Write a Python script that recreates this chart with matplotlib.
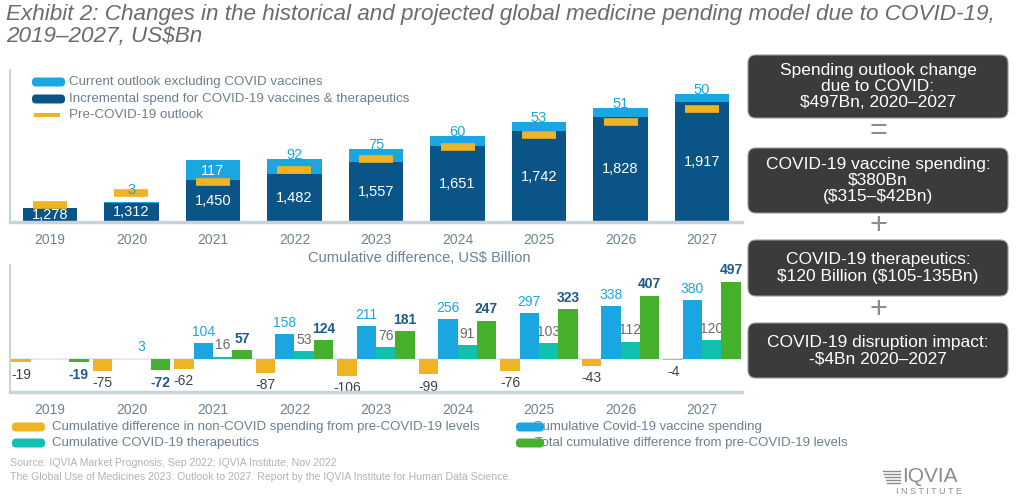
import matplotlib
matplotlib.use("Agg")
import matplotlib.pyplot as plt
from matplotlib import font_manager
from matplotlib.patches import FancyBboxPatch
from matplotlib.transforms import IdentityTransform
import numpy as np

# ---- data ----
years = ["2019", "2020", "2021", "2022", "2023", "2024", "2025", "2026", "2027"]
current_spend = [1278, 1312, 1450, 1482, 1557, 1651, 1742, 1828, 1917]
incremental = [0, 3, 117, 92, 75, 60, 53, 51, 50]
pre_covid = [1297, 1368, 1437, 1507, 1576, 1644, 1719, 1795, 1878]

non_covid_diff = [-19, -75, -62, -87, -106, -99, -76, -43, -4]
vaccine_cum = [0, 0, 104, 158, 211, 256, 297, 338, 380]
therapeutics_cum = [0, 3, 16, 53, 76, 91, 103, 112, 120]
total_cum = [-19, -72, 57, 124, 181, 247, 323, 407, 497]

# ---- style ----
NAVY = "#0a5487"
LIGHT = "#1aa6e0"
ORANGE = "#f0b323"
TEAL = "#13bfae"
GREEN = "#44b02b"
LBL_DARK = "#1e5a8a"
AXCOL = "#c8d3db"
TXT = "#6d7f8d"

names = {f.name for f in font_manager.fontManager.ttflist}
NARROW = "Liberation Sans Narrow" if "Liberation Sans Narrow" in names else "Liberation Sans"
plt.rcParams["font.family"] = ["Liberation Sans", "DejaVu Sans"]
plt.rcParams["text.parse_math"] = False

W, H = 1018, 500
fig = plt.figure(figsize=(W / 100, H / 100), dpi=100)


def fx(x):
    return x / W


def fy(y):
    return 1 - y / H


def px_patch(x0, y0, x1, y1, color, rad=4, z=5):
    # rounded box given in image pixels (top-left origin)
    p = FancyBboxPatch((x0, H - y1), x1 - x0, y1 - y0,
                       boxstyle=f"round,pad=0,rounding_size={rad}",
                       transform=IdentityTransform(), facecolor=color,
                       edgecolor="none", zorder=z)
    fig.patches.append(p)
    return p


x = np.arange(len(years))

# ---- title ----
fig.text(fx(6), fy(4), "Exhibit 2: Changes in the historical and projected global medicine pending model due to COVID-19,\n2019\u20132027, US$Bn",
         ha="left", va="top", fontsize=16.2, style="italic", color="#6b6b6b",
         family=[NARROW, "DejaVu Sans"], linespacing=1.05)

# ---- upper chart ----
ax1 = fig.add_axes([fx(10), fy(222), (742 - 10) / W, (222 - 70) / H])
ymin1 = 1195
ax1.bar(x, current_spend, width=0.67, color=NAVY, zorder=2)
ax1.bar(x, incremental, bottom=current_spend, width=0.67, color=LIGHT, zorder=2)
ax1.plot(x, pre_covid, ls="none", marker="_", ms=24, mew=5.5, color=ORANGE, zorder=3)
ax1.set_xlim(-0.49, 8.49)
ax1.set_ylim(ymin1, 2111)
for xi, v, inc in zip(x, current_spend, incremental):
    ax1.text(xi, (ymin1 + v) / 2, f"{v:,}", ha="center", va="center",
             color="white", fontsize=10.5, zorder=4)
    top = v + inc
    if inc == 0:
        continue
    if inc > 100:
        ax1.annotate(f"{inc}", (xi, top), xytext=(0, -3), textcoords="offset points",
                     ha="center", va="top", color="white", fontsize=10.5, zorder=4)
    elif inc < 20:
        ax1.annotate(f"{inc}", (xi, top), xytext=(0, 9), textcoords="offset points",
                     ha="center", va="center", color=LIGHT, fontsize=10.5, zorder=4)
    else:
        ax1.annotate(f"{inc}", (xi, top), xytext=(0, 3), textcoords="offset points",
                     ha="center", va="center", color=LIGHT, fontsize=10.5, zorder=1.5)
ax1.set_xticks(x, years)
ax1.set_yticks([])
ax1.tick_params(axis="x", length=0, pad=8, labelsize=10, labelcolor="#6f8391")
for s in ["top", "right"]:
    ax1.spines[s].set_visible(False)
ax1.spines["left"].set_color(AXCOL)
ax1.spines["left"].set_linewidth(1.5)
ax1.spines["bottom"].set_color(AXCOL)
ax1.spines["bottom"].set_linewidth(2.5)
ax1.patch.set_visible(False)

# upper legend
leg1 = [(LIGHT, "Current outlook excluding COVID vaccines", 82),
        (NAVY, "Incremental spend for COVID-19 vaccines & therapeutics", 99)]
for c, lab, yy in leg1:
    px_patch(32, yy - 4.5, 65, yy + 4.5, c, rad=4)
    fig.text(fx(69), fy(yy), lab, ha="left", va="center", fontsize=9.6, color=TXT)
px_patch(34, 113, 60, 117, ORANGE, rad=0)
fig.text(fx(69), fy(115), "Pre-COVID-19 outlook", ha="left", va="center", fontsize=9.6, color=TXT)

fig.text(fx(419), fy(258), "Cumulative difference, US$ Billion", ha="center", va="center",
         fontsize=10.5, color="#6a8196")

# ---- lower chart ----
ax2 = fig.add_axes([fx(10), fy(392), (742 - 10) / W, (392 - 265) / H])
w = 0.237
series = [
    (non_covid_diff, ORANGE, -1.5, "#404040", "normal"),
    (vaccine_cum, LIGHT, -0.5, LIGHT, "normal"),
    (therapeutics_cum, TEAL, 0.5, "#6a6a6a", "normal"),
    (total_cum, GREEN, 1.5, LBL_DARK, "bold"),
]
for vals, c, off, lc, fw in series:
    ax2.bar(x + off * w, vals, width=w, color=c, zorder=3)
    for xi, v in zip(x, vals):
        if v == 0:
            continue
        col = LIGHT if (c == TEAL and v < 10) else lc
        if v > 0:
            ax2.annotate(f"{v}", (xi + off * w, v), xytext=(0, 3), textcoords="offset points",
                         ha="center", va="bottom", color=col, fontsize=10, fontweight=fw, zorder=2)
        else:
            ax2.annotate(f"{v}", (xi + off * w, v), xytext=(0, -4), textcoords="offset points",
                         ha="center", va="top", color=col, fontsize=10, fontweight=fw, zorder=2)
ax2.axhline(0, color="#dfe6ea", lw=1.2, zorder=1)
ax2.set_xlim(-0.49, 8.49)
ax2.set_ylim(-212, 604)
ax2.set_xticks(x, years)
ax2.set_yticks([])
ax2.tick_params(axis="x", length=0, pad=8, labelsize=10, labelcolor="#6f8391")
for s in ["top", "right"]:
    ax2.spines[s].set_visible(False)
ax2.spines["left"].set_color(AXCOL)
ax2.spines["left"].set_linewidth(1.5)
ax2.spines["bottom"].set_color(AXCOL)
ax2.spines["bottom"].set_linewidth(2.5)
ax2.patch.set_visible(False)

# lower legend
leg2 = [(ORANGE, "Cumulative difference in non-COVID spending from pre-COVID-19 levels", 12, 45, 52, 427),
        (TEAL, "Cumulative COVID-19 therapeutics", 12, 45, 52, 443),
        (LIGHT, "Cumulative Covid-19 vaccine spending", 516, 544, 533, 427),
        (GREEN, "Total cumulative difference from pre-COVID-19 levels", 516, 544, 535, 443)]
for c, lab, x0, x1, tx, yy in leg2:
    px_patch(x0, yy - 4.5, x1, yy + 4.5, c, rad=4, z=6)
    fig.text(fx(tx), fy(yy), lab, ha="left", va="center", fontsize=9.5, color=TXT, zorder=1)

# ---- right-hand boxes ----
boxes = [
    (55, 118, "Spending outlook change\ndue to COVID:\n$497Bn, 2020\u20132027"),
    (148, 213, "COVID-19 vaccine spending:\n$380Bn\n($315\u2013$42Bn)"),
    (240, 296, "COVID-19 therapeutics:\n$120 Billion ($105-135Bn)"),
    (323, 378, "COVID-19 disruption impact:\n-$4Bn 2020\u20132027"),
]
for y0, y1, txt in boxes:
    b = px_patch(748, y0, 1008, y1, "#3b3b3b", rad=8)
    b.set_edgecolor("#9a9a9a")
    b.set_linewidth(0.8)
    fig.text(fx(878), fy((y0 + y1) / 2), txt, ha="center", va="center", color="white",
             fontsize=12.5, linespacing=1.12, zorder=7)
for sym, yy in [("=", 131), ("+", 226), ("+", 310)]:
    fig.text(fx(878), fy(yy), sym, ha="center", va="center", color="#8c8c8c", fontsize=22)

# ---- source & logo ----
fig.text(fx(10), fy(463), "Source: IQVIA Market Prognosis, Sep 2022; IQVIA Institute, Nov 2022",
         ha="left", va="center", fontsize=7.6, color="#b3b3b3")
fig.text(fx(10), fy(477), "The Global Use of Medicines 2023: Outlook to 2027. Report by the IQVIA Institute for Human Data Science.",
         ha="left", va="center", fontsize=7.6, color="#b3b3b3")
for k, yy in enumerate(np.linspace(471, 483, 5)):
    fig.lines.append(plt.Line2D([fx(883 + k), fx(900)], [fy(yy), fy(yy)], color="#8c8c8c",
                                lw=1.0, transform=fig.transFigure))
fig.text(fx(902), fy(477), "IQVIA", ha="left", va="center", fontsize=15, color="#8c8c8c")
fig.text(fx(929), fy(491), "I N S T I T U T E", ha="center", va="center", fontsize=6.5, color="#8c8c8c")

fig.savefig("out.png", dpi=100)
